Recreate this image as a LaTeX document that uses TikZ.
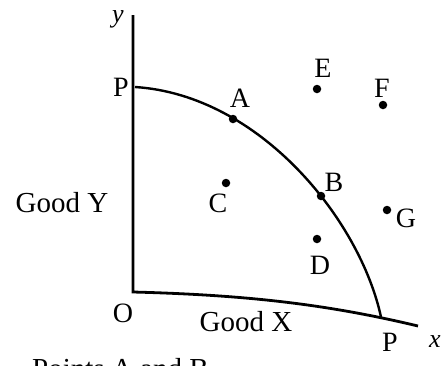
\documentclass[tikz,border=0pt]{standalone}
\usepackage{fontspec}
\setmainfont{Liberation Serif}
\usetikzlibrary{positioning}

\begin{document}
\begin{tikzpicture}[x=1pt,y=-1pt,
  dot/.style={circle,fill=black,inner sep=0pt,minimum size=8.5pt},
  lbl/.style={font=\fontsize{28}{29}\selectfont,inner sep=0pt},
  axis/.style={line width=2.8pt},
  ppc/.style={line width=2.4pt},
]
  \useasboundingbox (0,0) rectangle (443,365);

  % axes
  \coordinate (ytop) at (133,15);
  \coordinate (O) at (133,292);
  \coordinate (xend) at (418,326);
  \draw[axis] (ytop) -- (O) .. controls (250,295) and (330,305) .. (xend);
  \node[lbl,font=\itshape\fontsize{26}{27}\selectfont] (ylab) at (118,19) {y};
  \node[lbl,font=\itshape\fontsize{26}{27}\selectfont] (xlab) at (435,342) {x};
  \node[lbl] (olab) at (123,313) {O};
  \node[lbl,font=\fontsize{29}{30}\selectfont] (goodx) at (246,322) {Good X};
  \node[lbl,font=\fontsize{29}{30}\selectfont] (goody) at (62,203) {Good Y};

  % production possibility curve
  \coordinate (PY) at (135,87);
  \coordinate (PX) at (381,317);
  \draw[ppc] (PY) .. controls (260,95) and (360,220) .. (PX);
  \node[lbl] (pylab) at (121,87) {P};
  \node[lbl] (pxlab) at (390,342) {P};

  % points
  \node[dot] (A) at (233,119) {};
  \node[dot] (B) at (321,196) {};
  \node[dot] (C) at (226,183) {};
  \node[dot] (D) at (317,239) {};
  \node[dot] (E) at (317,89) {};
  \node[dot] (F) at (383,105) {};
  \node[dot] (G) at (387,210) {};
  \node[lbl] (alab) at (240,98) {A};
  \node[lbl] (blab) at (334,182) {B};
  \node[lbl] (clab) at (218,203) {C};
  \node[lbl] (dlab) at (320,265) {D};
  \node[lbl] (elab) at (323,68) {E};
  \node[lbl] (flab) at (382,88) {F};
  \node[lbl] (glab) at (406,218) {G};

  % caption below (cut off)
  \node[lbl,font=\fontsize{29}{30}\selectfont,anchor=base west] (caption) at (32,378) {Points A and B};
\end{tikzpicture}
\end{document}
